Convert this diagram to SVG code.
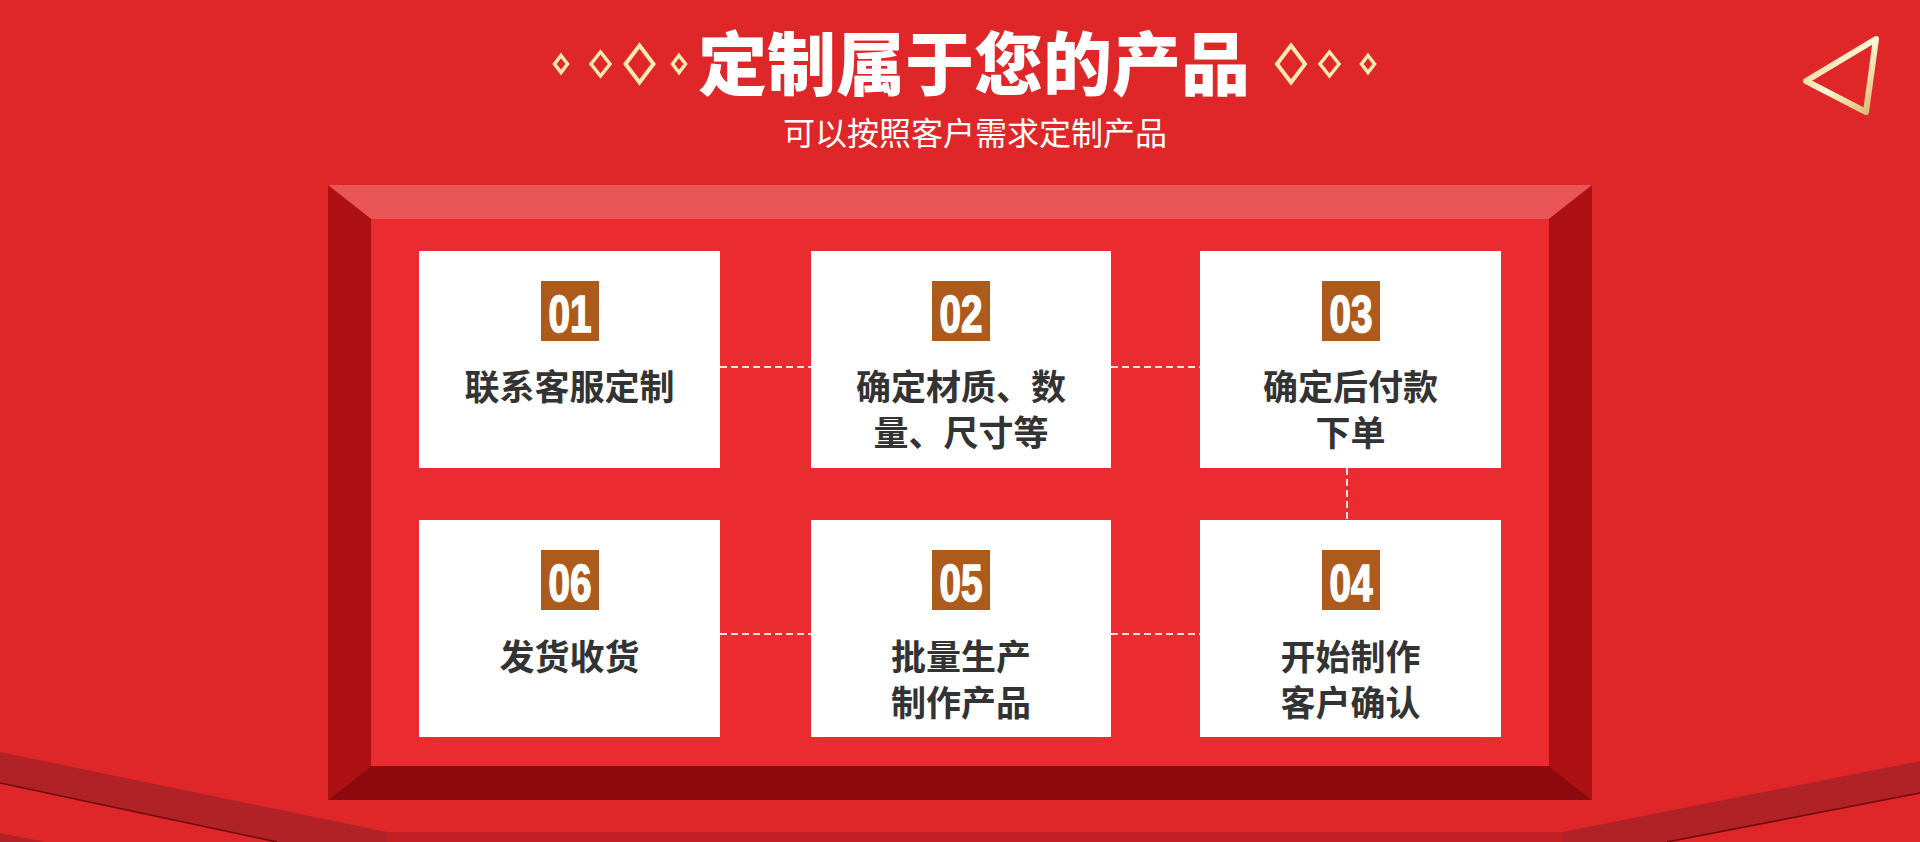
<svg xmlns="http://www.w3.org/2000/svg" width="1920" height="842" viewBox="0 0 1920 842">
<defs>
<linearGradient id="gold" x1="0" y1="0" x2="1" y2="1">
<stop offset="0" stop-color="#E6C77A"/>
<stop offset="0.5" stop-color="#FFF6D6"/>
<stop offset="1" stop-color="#D9B565"/>
</linearGradient>
<style>
.box{fill:#FFFFFF}
.badge{fill:#AD5B1C}
.num{font-family:"Liberation Sans",Arial,sans-serif;font-weight:bold;font-size:51px;fill:#FFFFFF;stroke:#FFFFFF;stroke-width:1.6;text-anchor:middle}
.lbl{font-family:"Noto Sans CJK SC","Noto Sans",sans-serif;font-weight:bold;font-size:35px;fill:#333333;text-anchor:middle}
.dash{stroke:#FBE0E0;stroke-width:2;stroke-dasharray:7 4;fill:none}
.dia{fill:none;stroke:#FCE8B0;stroke-width:3.5}
</style>
</defs>
<rect x="0" y="0" width="1920" height="842" fill="#DF272A"/>
<g id="bottom-deco">
<polygon points="0,752 387,832 387,842 277,842 0,783" fill="#B12227"/>
<polyline points="0,783 277,842" stroke="#6E0A0C" stroke-width="1.5" fill="none"/>
<polygon points="0,833 45,842 0,842" fill="#B12227"/>
<polygon points="387,832 1563,832 1563,842 387,842" fill="#C11F24"/>
<polygon points="1563,832 1920,761 1920,793 1667,842 1563,842" fill="#B12227"/>
<polyline points="1667,842 1920,793" stroke="#6E0A0C" stroke-width="1.5" fill="none"/>
</g>
<g id="title">
<text x="974" y="90" font-family="Noto Sans CJK SC,Noto Sans,sans-serif" font-weight="900" font-size="69" fill="#FFFFFF" text-anchor="middle">定制属于您的产品</text>
<text x="975" y="145" font-family="Noto Sans CJK SC,Noto Sans,sans-serif" font-size="32" fill="#FFFFFF" text-anchor="middle">可以按照客户需求定制产品</text>
<path class="dia" d="M561,55.5 L567.5,64 L561,72.5 L554.5,64 Z"/>
<path class="dia" d="M600.5,52 L610,64 L600.5,76 L591,64 Z"/>
<path class="dia" d="M639.5,45.5 L653.5,64 L639.5,82.5 L625.5,64 Z" style="stroke-width:4"/>
<path class="dia" d="M679,55.5 L685.5,64 L679,72.5 L672.5,64 Z"/>
<path class="dia" d="M1291,45.5 L1305,64 L1291,82.5 L1277,64 Z" style="stroke-width:4"/>
<path class="dia" d="M1329.5,52 L1339,64 L1329.5,76 L1320,64 Z"/>
<path class="dia" d="M1368,55.5 L1374.5,64 L1368,72.5 L1361.5,64 Z"/>
</g>
<g id="corner-triangle">
<polygon points="1876,39 1806,81 1866,112" fill="none" stroke="url(#gold)" stroke-width="6" stroke-linejoin="round"/>
</g>
<g id="frame">
<rect x="371" y="219" width="1178" height="547" fill="#EA2C30"/>
<polygon points="328,185 1592,185 1549,219 371,219" fill="#EA5558"/>
<polygon points="328,185 371,219 371,766 328,800" fill="#AE1114"/>
<polygon points="1592,185 1549,219 1549,766 1592,800" fill="#AE1114"/>
<polygon points="371,766 1549,766 1592,800 328,800" fill="#8C0A0D"/>
</g>
<g id="connectors">
<line class="dash" x1="720" y1="367" x2="811" y2="367"/>
<line class="dash" x1="1111" y1="367" x2="1200" y2="367"/>
<line class="dash" x1="1347" y1="468" x2="1347" y2="520"/>
<line class="dash" x1="1111" y1="634" x2="1200" y2="634"/>
<line class="dash" x1="720" y1="634" x2="811" y2="634"/>
</g>
<g id="step01">
<rect class="box" x="419" y="251" width="301" height="217"/>
<rect class="badge" x="541" y="281" width="58" height="60"/>
<text class="num" x="570" y="332" textLength="43" lengthAdjust="spacingAndGlyphs">01</text>
<text class="lbl" x="569.5" y="400">联系客服定制</text>
</g>
<g id="step02">
<rect class="box" x="811" y="251" width="300" height="217"/>
<rect class="badge" x="932" y="281" width="58" height="60"/>
<text class="num" x="961" y="332" textLength="43" lengthAdjust="spacingAndGlyphs">02</text>
<text class="lbl" x="961" y="400">确定材质、数</text>
<text class="lbl" x="961" y="446">量、尺寸等</text>
</g>
<g id="step03">
<rect class="box" x="1200" y="251" width="301" height="217"/>
<rect class="badge" x="1322" y="281" width="58" height="60"/>
<text class="num" x="1351" y="332" textLength="43" lengthAdjust="spacingAndGlyphs">03</text>
<text class="lbl" x="1350.5" y="400">确定后付款</text>
<text class="lbl" x="1350.5" y="446">下单</text>
</g>
<g id="step04">
<rect class="box" x="1200" y="520" width="301" height="217"/>
<rect class="badge" x="1322" y="550" width="58" height="60"/>
<text class="num" x="1351" y="601" textLength="43" lengthAdjust="spacingAndGlyphs">04</text>
<text class="lbl" x="1350.5" y="670">开始制作</text>
<text class="lbl" x="1350.5" y="716">客户确认</text>
</g>
<g id="step05">
<rect class="box" x="811" y="520" width="300" height="217"/>
<rect class="badge" x="932" y="550" width="58" height="60"/>
<text class="num" x="961" y="601" textLength="43" lengthAdjust="spacingAndGlyphs">05</text>
<text class="lbl" x="961" y="670">批量生产</text>
<text class="lbl" x="961" y="716">制作产品</text>
</g>
<g id="step06">
<rect class="box" x="419" y="520" width="301" height="217"/>
<rect class="badge" x="541" y="550" width="58" height="60"/>
<text class="num" x="570" y="601" textLength="43" lengthAdjust="spacingAndGlyphs">06</text>
<text class="lbl" x="569.5" y="670">发货收货</text>
</g>
</svg>
